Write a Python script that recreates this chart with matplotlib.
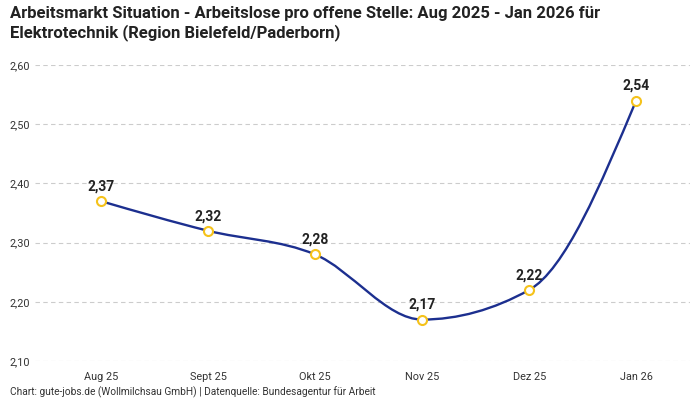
import matplotlib
matplotlib.use("Agg")
import matplotlib.pyplot as plt
from matplotlib.path import Path
from matplotlib.patches import PathPatch
import numpy as np

categories = ["Aug 25", "Sept 25", "Okt 25", "Nov 25", "Dez 25", "Jan 26"]
values = [2.37, 2.32, 2.28, 2.17, 2.22, 2.54]
yticks = [2.10, 2.20, 2.30, 2.40, 2.50, 2.60]

title = "Arbeitsmarkt Situation - Arbeitslose pro offene Stelle: Aug 2025 - Jan 2026 für\nElektrotechnik (Region Bielefeld/Paderborn)"
footer = "Chart: gute-jobs.de (Wollmilchsau GmbH) | Datenquelle: Bundesagentur für Arbeit"

LINE = "#1c2f8f"
MARK = "#f5c21b"

plt.rcParams['font.family'] = ['Roboto', 'DejaVu Sans']

fig = plt.figure(figsize=(7, 4), dpi=100)
ax = fig.add_axes([0.05, 0.0975, 0.936, 0.74])

x = np.arange(len(values), dtype=float)
y = np.array(values, dtype=float)

# monotone cubic (d3 curveMonotoneX style) path through the data
def sign(v):
    return -1.0 if v < 0 else 1.0

n = len(x)
t = np.zeros(n)
for i in range(1, n - 1):
    h0 = x[i] - x[i - 1]
    h1 = x[i + 1] - x[i]
    s0 = (y[i] - y[i - 1]) / h0
    s1 = (y[i + 1] - y[i]) / h1
    p = (s0 * h1 + s1 * h0) / (h0 + h1)
    t[i] = (sign(s0) + sign(s1)) * min(abs(s0), abs(s1), 0.5 * abs(p)) or 0.0
h = x[1] - x[0]
t[0] = (3 * (y[1] - y[0]) / h - t[1]) / 2
h = x[-1] - x[-2]
t[-1] = (3 * (y[-1] - y[-2]) / h - t[-2]) / 2

verts = [(x[0], y[0])]
codes = [Path.MOVETO]
for i in range(n - 1):
    dx = (x[i + 1] - x[i]) / 3
    verts += [(x[i] + dx, y[i] + dx * t[i]),
              (x[i + 1] - dx, y[i + 1] - dx * t[i + 1]),
              (x[i + 1], y[i + 1])]
    codes += [Path.CURVE4] * 3
ax.add_patch(PathPatch(Path(verts, codes), facecolor="none", edgecolor=LINE, lw=1.7, zorder=3))

ax.plot(x, y, linestyle="none", marker="o", ms=6.5, mfc="white", mec=MARK, mew=1.5, zorder=4)

for xi, yi in zip(x, y):
    ax.annotate(f"{yi:.2f}".replace(".", ","), (xi, yi), xytext=(0, 5.5), textcoords="offset points",
                ha="center", va="bottom", fontsize=10, fontweight="bold", color="#222222", zorder=5)

ax.set_xlim(-0.617, 5.505)
ax.set_ylim(2.10, 2.60)
ax.set_xticks(x)
ax.set_xticklabels(categories)
ax.set_yticks(yticks)
ax.set_yticklabels([f"{v:.2f}".replace(".", ",") for v in yticks])
ax.tick_params(axis="both", length=0, labelsize=7.8, colors="#333333")
ax.tick_params(axis="x", pad=8)
ax.tick_params(axis="y", pad=2)
for lab in ax.get_yticklabels():
    lab.set_horizontalalignment("left")
    lab.set_x(-0.035)
for s in ax.spines.values():
    s.set_visible(False)
ax.grid(axis="y", color="#cccccc", linestyle=(0, (4, 3)), lw=0.8)
ax.set_axisbelow(True)

fig.text(0.014, 0.985, title, ha="left", va="top", fontsize=12, fontweight="bold",
         color="#222222", linespacing=1.2)
fig.text(0.014, 0.005, footer, ha="left", va="bottom", fontsize=7.3, color="#333333")

fig.savefig("out.png", dpi=100, facecolor="white")
